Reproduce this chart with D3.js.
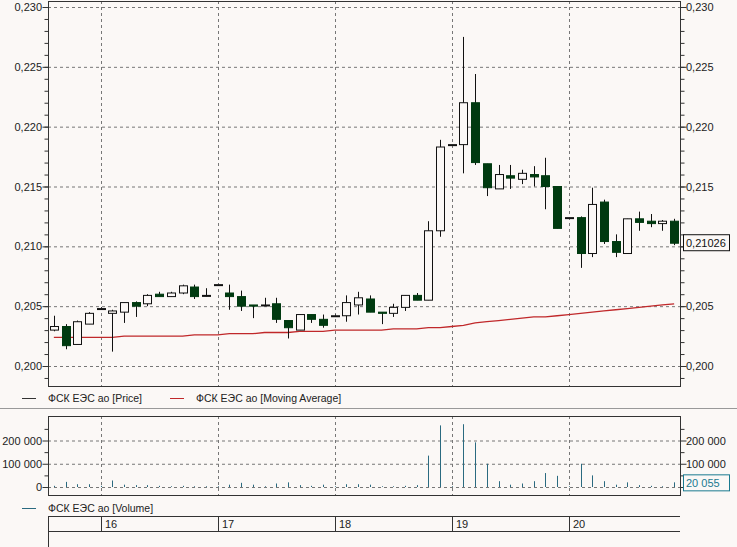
<!DOCTYPE html>
<html><head><meta charset="utf-8">
<script src="https://cdn.jsdelivr.net/npm/d3@7"></script>
<style>body{margin:0;background:#fbf8f6}svg{display:block;font-family:"Liberation Sans",Arial,sans-serif}</style>
</head><body><svg id="c" width="737" height="547"></svg>
<script>
var opens  = [.2030,.2033,.2018,.2035,.2048,.2044,.2045,.2053,.2052,.2060,.2058,.2061,.2066,.2059,.2068,.2061,.2058,.2051,.2051,.2052,.2038,.2030,.2043,.2039,.2042,.2042,.2051,.2056,.2045,.2044,.2049,.2059,.2055,.2113,.2185,.2185,.2220,.2169,.2148,.2159,.2156,.2160,.2159,.2150,.2124,.2124,.2094,.2137,.2104,.2094,.2123,.2121,.2119,.2121];
var closes = [.2033,.2017,.2037,.2044,.2048,.2046,.2053,.2050,.2059,.2058,.2061,.2067,.2058,.2059,.2068,.2058,.2050,.2050,.2051,.2039,.2032,.2043,.2039,.2034,.2042,.2053,.2057,.2045,.2044,.2049,.2059,.2055,.2113,.2183,.2185,.2220,.2170,.2149,.2160,.2157,.2161,.2158,.2150,.2115,.2124,.2094,.2135,.2104,.2095,.2123,.2120,.2119,.2121,.21026];
var highs  = [.2042,.2035,.2038,.2045,.2049,.2047,.2053,.2054,.2060,.2062,.2062,.2068,.2068,.2065,.2068,.2068,.2063,.2051,.2057,.2057,.2038,.2043,.2043,.2043,.2043,.2059,.2062,.2059,.2045,.2052,.2059,.2061,.2121,.2189,.2185,.2275,.2244,.2169,.2168,.2168,.2164,.2167,.2174,.2150,.2124,.2125,.2149,.2139,.2110,.2123,.2129,.2127,.2122,.2123];
var lows   = [.2029,.2014,.2018,.2035,.2048,.2012,.2036,.2041,.2050,.2058,.2058,.2060,.2056,.2058,.2068,.2047,.2046,.2040,.2050,.2036,.2023,.2030,.2036,.2032,.2041,.2037,.2043,.2045,.2035,.2041,.2046,.2055,.2055,.2108,.2185,.2161,.2168,.2142,.2148,.2148,.2152,.2150,.2131,.2115,.2124,.2082,.2091,.2102,.2091,.2094,.2113,.2116,.2113,.2101];
var movingAvg = [.2024,.2024,.2024,.2024,.2024,.2024,.2025,.2025,.2025,.2025,.2025,.2025,.2026,.2026,.2026,.2027,.2027,.2027,.2028,.2028,.2028,.2029,.2029,.2029,.2030,.2030,.2030,.2030,.2030,.2031,.2031,.2031,.2032,.2032,.2033,.2034,.2036,.2037,.2038,.2039,.2040,.2041,.2041,.2042,.2043,.2044,.2045,.2046,.2047,.2048,.2049,.2050,.2051,.2052];
var volumes = [5000,22000,12000,12000,5000,28000,10000,8000,8000,5000,3000,5000,3000,3000,3000,10000,18000,10000,3000,15000,20000,8000,5000,10000,3000,12000,12000,10000,3000,3000,5000,8000,135000,265000,3000,270000,192000,100000,25000,10000,15000,25000,60000,48000,3000,100000,50000,25000,10000,20000,8000,5000,3000,20055];
var dayLabels = ["16","17","18","19","20"];
var dayStarts = [4,14,24,34,44];
var priceTicks = [.200,.205,.210,.215,.220,.225,.230];
var volTicks = [0,100000,200000];

var svg = d3.select("#c");
var L = 48, R = 680, grid = "#777", dark = "#003a10";
var fmtP = function (v) { return d3.format(".3f")(v).replace(".", ","); };
var fmtV = function (v) { return d3.format(",")(v).replace(/,/g, " "); };

var x = d3.scaleLinear().domain([-0.5, 53.5]).range([L, R]);
var y = d3.scaleLinear().domain([.200, .230]).range([366, 7]);
var yv = d3.scaleLinear().domain([0, 200000]).range([487, 440.5]);

// hideRight: y position of the last-value box, labels near it are covered
function panel(top, bot, sc, ticks, minor, fmt, hideY) {
    var g = svg.append("g");
    g.selectAll("line.h").data(ticks).join("line")
        .attr("x1", L).attr("x2", R).attr("y1", d => sc(d) + .5).attr("y2", d => sc(d) + .5)
        .attr("stroke", grid).attr("stroke-dasharray", "3,3");
    g.selectAll("line.v").data(dayStarts).join("line")
        .attr("x1", d => Math.round(x(d)) + .5).attr("x2", d => Math.round(x(d)) + .5)
        .attr("y1", top).attr("y2", bot).attr("stroke", grid).attr("stroke-dasharray", "3,3");
    g.append("rect").attr("x", L + .5).attr("y", top + .5).attr("width", R - L).attr("height", bot - top)
        .attr("fill", "none").attr("stroke", "#333");
    [[L, -1], [R, 1]].forEach(function (s) {
        g.selectAll(null).data(minor).join("line")
            .attr("x1", s[0] + .5).attr("x2", s[0] + .5 + s[1] * 4)
            .attr("y1", d => sc(d) + .5).attr("y2", d => sc(d) + .5).attr("stroke", "#333");
        g.selectAll(null).data(ticks).join("line")
            .attr("x1", s[0] + .5).attr("x2", s[0] + .5 + s[1] * 6)
            .attr("y1", d => sc(d) + .5).attr("y2", d => sc(d) + .5).attr("stroke", "#333");
        g.selectAll(null).data(s[1] < 0 ? ticks : ticks.filter(d => Math.abs(sc(d) - hideY) > 12)).join("text")
            .attr("x", s[1] < 0 ? L - 6 : R + 6).attr("y", d => sc(d) + 4)
            .attr("text-anchor", s[1] < 0 ? "end" : "start")
            .attr("font-size", 11).attr("fill", "#222").text(fmt);
    });
}
panel(1, 386, y, priceTicks, d3.range(0.199, 0.2305, 0.001).filter(v => v > 0.1985), fmtP, y(closes[53]));
panel(416, 495, yv, volTicks, [50000, 150000, 250000], fmtV, yv(volumes[53]) + 1);

// moving average
svg.append("path").datum(movingAvg)
    .attr("d", d3.line().x((d, i) => x(i)).y(d => y(d)))
    .attr("fill", "none").attr("stroke", "#c0282a").attr("stroke-width", 1.3);

// candles
var c = svg.append("g").selectAll("g").data(opens).join("g");
c.append("line").attr("x1", (d, i) => Math.round(x(i)) + .5).attr("x2", (d, i) => Math.round(x(i)) + .5)
    .attr("y1", (d, i) => y(highs[i])).attr("y2", (d, i) => y(lows[i])).attr("stroke", "#111");
c.append("rect").attr("x", (d, i) => Math.round(x(i)) - 3.5).attr("width", 8)
    .attr("y", (d, i) => y(Math.max(d, closes[i])))
    .attr("height", (d, i) => Math.max(1, Math.abs(y(d) - y(closes[i]))))
    .attr("fill", (d, i) => closes[i] < d ? dark : "#fbf8f6")
    .attr("stroke", (d, i) => closes[i] < d ? dark : "#111");

// volume bars
svg.append("g").selectAll("line").data(volumes).join("line")
    .attr("x1", (d, i) => Math.round(x(i)) + .5).attr("x2", (d, i) => Math.round(x(i)) + .5)
    .attr("y1", yv(0)).attr("y2", d => yv(d)).attr("stroke", "#2a6a80");

// last value boxes
function lastBox(yy, txt, col) {
    var g = svg.append("g");
    g.append("rect").attr("x", 683.5).attr("y", yy - 8.5).attr("width", 46).attr("height", 16)
        .attr("fill", "#fbf8f6").attr("stroke", col);
    g.append("text").attr("x", 686).attr("y", yy + 4).attr("font-size", 11).attr("fill", col).text(txt);
}
lastBox(y(closes[53]), "0,21026", "#111");
lastBox(yv(volumes[53]) + 1, "20 055", "#1a7a90");

// legends
function legend(xx, yy, col, txt) {
    svg.append("line").attr("x1", xx).attr("x2", xx + 14).attr("y1", yy + .5).attr("y2", yy + .5).attr("stroke", col);
    svg.append("text").attr("x", xx + 26).attr("y", yy + 4).attr("font-size", 10.5).attr("fill", "#222").text(txt);
}
legend(22, 398, "#333", "ФСК ЕЭС ао [Price]");
legend(170, 398, "#c0282a", "ФСК ЕЭС ао [Moving Average]");
legend(22, 508, "#2a6a80", "ФСК ЕЭС ао [Volume]");
svg.append("line").attr("x1", 0).attr("x2", 737).attr("y1", 408.5).attr("y2", 408.5).attr("stroke", "#999");

// date axis
var da = svg.append("g");
da.append("line").attr("x1", L).attr("x2", R).attr("y1", 516.5).attr("y2", 516.5).attr("stroke", "#333");
da.append("line").attr("x1", L).attr("x2", R).attr("y1", 531.5).attr("y2", 531.5).attr("stroke", "#333");
da.append("line").attr("x1", L + .5).attr("x2", L + .5).attr("y1", 516).attr("y2", 547).attr("stroke", "#333");
da.selectAll("line.d").data(dayStarts).join("line")
    .attr("x1", d => Math.round(x(d)) + .5).attr("x2", d => Math.round(x(d)) + .5)
    .attr("y1", 516).attr("y2", 531).attr("stroke", "#333");
da.selectAll("text").data(dayLabels).join("text")
    .attr("x", (d, i) => Math.round(x(dayStarts[i])) + 4).attr("y", 528)
    .attr("font-size", 11).attr("fill", "#222").text(d => d);
</script></body></html>
